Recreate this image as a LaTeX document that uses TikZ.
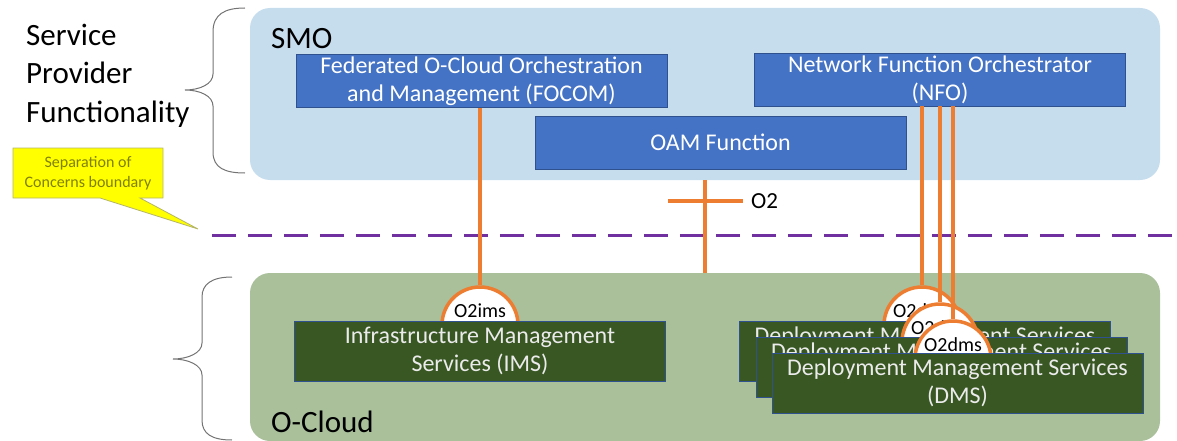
\documentclass[tikz,border=0pt]{standalone}
\usepackage{fontspec}
\setmainfont{Carlito}
\definecolor{smofill}{HTML}{C6DDEE}
\definecolor{cloudfill}{HTML}{A9C09B}
\definecolor{funcblue}{HTML}{4472C4}
\definecolor{funcedge}{HTML}{2F528F}
\definecolor{svcgreen}{HTML}{385723}
\definecolor{ifcolor}{HTML}{ED7D31}
\definecolor{soccolor}{HTML}{7030A0}
\definecolor{noteyellow}{HTML}{FFFF00}
\definecolor{notetext}{HTML}{808000}
\definecolor{noteedge}{HTML}{B5B56A}
\begin{document}
\begin{tikzpicture}[x=1pt,y=-1pt,
    area/.style={rounded corners=20pt,inner sep=0pt,minimum width=910pt},
    curly/.style={draw=black!55,line width=1pt},
    funcbox/.style={draw=funcedge,line width=0.8pt,fill=funcblue,text=white,
        minimum width=371pt,minimum height=53pt,inner sep=0pt,align=center,
        font=\fontsize{24}{28}\selectfont},
    svcbox/.style={funcbox,fill=svcgreen,text=white!92!black,minimum height=60pt},
    ifport/.style={circle,draw=ifcolor,line width=3.5pt,fill=white,
        minimum size=76pt,inner sep=0pt},
    iflink/.style={draw=ifcolor,line width=3.5pt},
    portlabel/.style={yshift=14pt,font=\fontsize{20}{24}\selectfont}]
    \useasboundingbox (0,0) rectangle (1177,441);
    \node[area,fill=smofill,minimum height=172pt] (smo) at (705,94) {};
    \node[area,fill=cloudfill,minimum height=168pt] (ocloud) at (705,357) {};
    \node[anchor=west,inner sep=0pt,font=\fontsize{31}{36}\selectfont] (smotitle) at (271,39) {SMO};
    \node[anchor=west,inner sep=0pt,font=\fontsize{31}{36}\selectfont] (cloudtitle) at (271,422) {O-Cloud};
    \node[anchor=base west,inner sep=0pt,align=left,font=\fontsize{31}{38.5}\selectfont] (spf) at (26,122) {Service\\Provider\\Functionality};
    \draw[curly] (245,8) .. controls (225,8) and (213,14) .. (213,32) -- (213,74)
        .. controls (213,84) and (200,90) .. (185,90) .. controls (200,90) and (213,96) .. (213,106)
        -- (213,152) .. controls (213,168) and (225,173) .. (245,173);
    \draw[curly] (232,277) .. controls (212,277) and (202,284) .. (202,297) -- (202,343)
        .. controls (202,353) and (188,359) .. (173,359) .. controls (188,359) and (202,365) .. (202,375)
        -- (202,420) .. controls (202,434) and (212,440) .. (232,440);
    \coordinate (sociptip) at (198,229);
    \draw[draw=noteedge,fill=noteyellow,line width=0.8pt] (13,148) -- (163,148) -- (163,198) -- (140,198)
        -- (sociptip) -- (100,198) -- (13,198) -- cycle;
    \node[text=notetext,align=center,font=\fontsize{16}{20}\selectfont] (socnote) at (88,173) {Separation of\\Concerns boundary};
    \node[funcbox] (focom) at (481.5,81) {Federated O-Cloud Orchestration\\and Management (FOCOM)};
    \node[funcbox] (nfo) at (940,79.5) {Network Function Orchestrator\\(NFO)};
    \node[funcbox] (oam) at (720.5,142.5) {OAM Function};
    \coordinate (socstart) at (212,235);
    \coordinate (socend) at (1177,235);
    \draw[draw=soccolor,line width=3pt,dash pattern=on 24pt off 12pt] (socstart) -- (socend);
    \coordinate (o2mid) at (705,201);
    \coordinate (o2left) at (668,201);
    \coordinate (o2right) at (743,201);
    \draw[iflink] (smo.south -| o2mid) -- (ocloud.north -| o2mid);
    \draw[iflink] (o2left) -- (o2right);
    \node[anchor=west,inner sep=0pt,font=\fontsize{23}{26}\selectfont] (o2label) at (751,201) {O2};
    \node[ifport,label={[portlabel]center:O2ims}] (imsport) at (480,325) {};
    \draw[iflink] (focom.south -| imsport) -- (imsport.north);
    \node[svcbox] (ims) at (480,351) {Infrastructure Management\\Services (IMS)};
    \node[ifport,label={[portlabel]center:O2dms}] (dmsporta) at (922,325) {};
    \draw[iflink] (nfo.south -| dmsporta) -- (dmsporta.north);
    \node[svcbox] (dmsa) at (925,351) {Deployment Management Services\\(DMS)};
    \node[ifport,label={[portlabel]center:O2dms}] (dmsportb) at (940,342) {};
    \draw[iflink] (nfo.south -| dmsportb) -- (dmsportb.north);
    \node[svcbox] (dmsb) at (941.5,367) {Deployment Management Services\\(DMS)};
    \node[ifport,label={[portlabel]center:O2dms}] (dmsportc) at (953,359) {};
    \draw[iflink] (nfo.south -| dmsportc) -- (dmsportc.north);
    \node[svcbox] (dmsc) at (957.5,383) {Deployment Management Services\\(DMS)};
\end{tikzpicture}
\end{document}
